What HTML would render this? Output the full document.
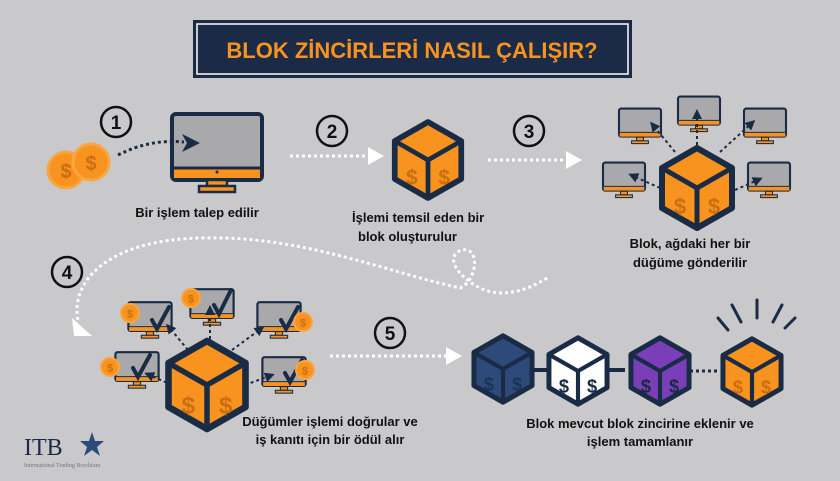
<!DOCTYPE html>
<html><head><meta charset="utf-8"><style>
body{margin:0;background:#c9c9cb;}
svg{display:block}
text{font-family:"Liberation Sans",sans-serif;font-weight:bold}
</style></head><body>
<svg width="840" height="481" viewBox="0 0 840 481" xmlns="http://www.w3.org/2000/svg">
<defs>
<g id="cube">
<polygon points="0,-40 35,-20 35,20 0,40 -35,20 -35,-20" fill="var(--s)"/>
<polygon points="0,-40 35,-20 35,20 0,40 -35,20 -35,-20" fill="none" stroke="#1a2b45" stroke-width="6" stroke-linejoin="round"/>
<path d="M-35,-20 L0,0 L35,-20 M0,0 L0,40" stroke="#1a2b45" stroke-width="5" fill="none"/>
<text x="-17" y="26" font-size="22" text-anchor="middle" fill="var(--d)">$</text>
<text x="17" y="26" font-size="22" text-anchor="middle" fill="var(--d)">$</text>
</g>
<g id="mon">
<rect x="-30" y="-22" width="60" height="40" rx="3" fill="#a9a9ab" stroke="#1a2b45" stroke-width="3"/>
<rect x="-29" y="12" width="58" height="6" fill="#f7931e"/>
<path d="M-29,12 H29" stroke="#1a2b45" stroke-width="1.5"/>
<rect x="-5" y="19" width="10" height="5" fill="#f7931e" stroke="#1a2b45" stroke-width="1.5"/>
<rect x="-12" y="24" width="24" height="4" fill="#f7931e" stroke="#1a2b45" stroke-width="1.5"/>
</g>
<g id="coin"><circle r="9" fill="#f7931e" stroke="#f9a640" stroke-width="2"/><text y="4.5" font-size="11" text-anchor="middle" fill="#c96f10">$</text></g>
<marker id="ah" viewBox="0 0 10 10" refX="7" refY="5" markerWidth="5" markerHeight="5" orient="auto"><path d="M0,0 L10,5 L0,10 z" fill="#1a2b45"/></marker>
</defs>

<!-- title -->
<rect x="193" y="20" width="439" height="58" fill="#1b2a47"/>
<rect x="197" y="24" width="431" height="50" fill="none" stroke="#fff" stroke-width="1.5"/>
<text x="412" y="58" font-size="22" text-anchor="middle" fill="#f7931e">BLOK ZİNCİRLERİ NASIL ÇALIŞIR?</text>

<!-- numbers -->
<g fill="none" stroke="#111" stroke-width="2.5">
<circle cx="116" cy="122" r="15"/><circle cx="332" cy="131" r="15"/><circle cx="529" cy="131" r="15"/><circle cx="67" cy="272" r="15"/><circle cx="390" cy="333" r="15"/>
</g>
<g font-size="19" text-anchor="middle" fill="#111">
<text x="116" y="129">1</text><text x="332" y="138">2</text><text x="529" y="138">3</text><text x="67" y="279">4</text><text x="390" y="340">5</text>
</g>

<!-- step1 -->
<circle cx="66" cy="170" r="18" fill="#f7931e" stroke="#f9a640" stroke-width="3"/>
<text x="66" y="178" font-size="20" text-anchor="middle" fill="#c96f10">$</text>
<circle cx="91" cy="162" r="18" fill="#f7931e" stroke="#f9a640" stroke-width="3"/>
<text x="91" y="170" font-size="20" text-anchor="middle" fill="#c96f10">$</text>
<rect x="172" y="114" width="90" height="66" rx="4" fill="#a9a9ab" stroke="#1a2b45" stroke-width="4"/>
<rect x="174" y="168" width="86" height="10" fill="#f7931e"/>
<path d="M174,168 H260" stroke="#1a2b45" stroke-width="3"/>
<circle cx="217" cy="172" r="1.5" fill="#1a2b45"/>
<rect x="207" y="180" width="20" height="6" fill="#f7931e" stroke="#1a2b45" stroke-width="2.5"/>
<rect x="199" y="186" width="36" height="6" fill="#f7931e" stroke="#1a2b45" stroke-width="2.5"/>
<path d="M118,155 C140,144 160,140 184,142" stroke="#1a2b45" stroke-width="3" stroke-dasharray="3,3" fill="none"/>
<path d="M182,134 L200,143 L182,152 L187,143 z" fill="#1a2b45"/>
<text x="197" y="217" font-size="13" text-anchor="middle" fill="#111">Bir işlem talep edilir</text>

<!-- white arrows -->
<g stroke="#fff" stroke-width="3" stroke-dasharray="3,3" fill="none">
<path d="M290,156 H372"/><path d="M488,160 H568"/><path d="M330,356 H448"/>
<path d="M547,278 C525,292 500,298 480,288 C455,275 445,255 462,250 C480,246 478,280 460,288 C380,270 300,235 200,238 C110,240 70,280 78,320"/>
</g>
<path d="M368,147 L384,156 L368,165 z" fill="#fff"/>
<path d="M566,151 L582,160 L566,169 z" fill="#fff"/>
<path d="M446,347 L462,356 L446,365 z" fill="#fff"/>
<path d="M72,318 L92,336 L74,336 z" fill="#fff"/>

<!-- step2 -->
<use href="#cube" transform="translate(428,160) scale(0.95)" style="--s:#f7931e;--d:#c96f10"/>
<text x="352" y="222" font-size="13" fill="#111">İşlemi temsil eden bir</text>
<text x="358" y="241" font-size="13" fill="#111">blok oluşturulur</text>

<!-- step3 -->
<use href="#mon" transform="translate(640,124) scale(0.7)"/>
<use href="#mon" transform="translate(699,112) scale(0.7)"/>
<use href="#mon" transform="translate(765,124) scale(0.7)"/>
<use href="#mon" transform="translate(624,178) scale(0.7)"/>
<use href="#mon" transform="translate(769,178) scale(0.7)"/>
<g stroke="#1a2b45" stroke-width="2" stroke-dasharray="3,3" fill="none" marker-end="url(#ah)">
<path d="M675,152 L652,124"/><path d="M697,145 L697,112"/><path d="M720,152 L753,122"/><path d="M660,188 L631,175"/><path d="M735,190 L760,179"/>
</g>
<use href="#cube" transform="translate(697,188) scale(1.0)" style="--s:#f7931e;--d:#c96f10"/>
<text x="690" y="248" font-size="13" text-anchor="middle" fill="#111">Blok, ağdaki her bir</text>
<text x="690" y="267" font-size="13" text-anchor="middle" fill="#111">düğüme gönderilir</text>

<!-- step4 -->
<use href="#mon" transform="translate(150,318) scale(0.72)"/>
<use href="#mon" transform="translate(212,305) scale(0.72)"/>
<use href="#mon" transform="translate(279,318) scale(0.72)"/>
<use href="#mon" transform="translate(137,368) scale(0.72)"/>
<use href="#mon" transform="translate(284,373) scale(0.72)"/>
<g stroke="#1a2b45" stroke-width="2" stroke-dasharray="3,3" fill="none" marker-end="url(#ah)">
<path d="M188,350 L168,326"/><path d="M210,345 L210,308"/><path d="M232,350 L262,328"/><path d="M172,385 L147,374"/><path d="M245,385 L272,375"/>
</g>
<g stroke="#1a2b45" stroke-width="4" fill="none" stroke-linecap="round">
<path d="M152,320 l5,9 l12,-22"/><path d="M214,305 l5,9 l12,-24"/><path d="M281,320 l5,9 l12,-22"/><path d="M133,368 l5,9 l12,-22"/><path d="M285,373 l5,9 l12,-22"/>
</g>
<use href="#coin" transform="translate(130,313)"/>
<use href="#coin" transform="translate(191,298)"/>
<use href="#coin" transform="translate(303,322)"/>
<use href="#coin" transform="translate(110,367)"/>
<use href="#coin" transform="translate(305,370)"/>
<use href="#cube" transform="translate(207,385) scale(1.1)" style="--s:#f7931e;--d:#c96f10"/>
<text x="330" y="426" font-size="13" text-anchor="middle" fill="#111">Düğümler işlemi doğrular ve</text>
<text x="330" y="444" font-size="13" text-anchor="middle" fill="#111">iş kanıtı için bir ödül alır</text>

<!-- step5 chain -->
<path d="M530,370 H550 M605,370 H625" stroke="#1a2b45" stroke-width="4"/>
<path d="M690,371 H720" stroke="#1a2b45" stroke-width="3" stroke-dasharray="3,3"/>
<use href="#cube" transform="translate(503,369) scale(0.83)" style="--s:#2e4a7a;--d:#1e3358"/>
<use href="#cube" transform="translate(578,371) scale(0.83)" style="--s:#fff;--d:#1a2b45"/>
<use href="#cube" transform="translate(660,371) scale(0.83)" style="--s:#7a3fb8;--d:#1a2b45"/>
<use href="#cube" transform="translate(752,372) scale(0.83)" style="--s:#f7931e;--d:#c96f10"/>
<g stroke="#1a2b45" stroke-width="3" stroke-linecap="round">
<path d="M718,318 L728,330"/><path d="M732,305 L741,322"/><path d="M757,300 L757,318"/><path d="M782,305 L773,322"/><path d="M795,318 L785,328"/>
</g>
<text x="640" y="428" font-size="13" text-anchor="middle" fill="#111">Blok mevcut blok zincirine eklenir ve</text>
<text x="640" y="446" font-size="13" text-anchor="middle" fill="#111">işlem tamamlanır</text>

<!-- logo -->
<text x="24" y="455" font-size="24" fill="#1b2a47" style="font-family:'Liberation Serif',serif;font-weight:normal">ITB</text>
<path d="M92,432 L95,441 L104,441 L97,447 L100,456 L92,450 L84,456 L87,447 L80,441 L89,441 z" fill="#2e4a7a"/>
<text x="24" y="467" font-size="6" fill="#777" style="font-family:'Liberation Serif',serif;font-weight:normal">International Trading Brochium</text>
</svg>
</body></html>
